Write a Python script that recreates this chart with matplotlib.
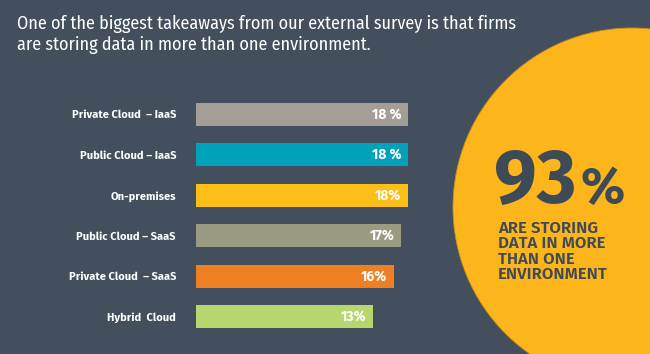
import numpy as np
import matplotlib
matplotlib.use('Agg')
from matplotlib import pyplot as plt
from matplotlib.patches import Circle

categories = ['Private Cloud  \u2013 IaaS', 'Public Cloud \u2013 IaaS', 'On-premises',
              'Public Cloud \u2013 SaaS', 'Private Cloud  \u2013 SaaS', 'Hybrid  Cloud']
values = [18, 18, 18, 17, 16, 13]
value_labels = ['18 %', '18 %', '18%', '17%', '16%', '13%']
colors = ['#a59d97', '#00a2b9', '#fbbf17', '#9b9b82', '#ee7f22', '#b6d66e']

headline = '93'
headline_unit = '%'
subtext = 'ARE STORING\nDATA IN MORE\nTHAN ONE\nENVIRONMENT'
title = ('One of the biggest takeaways from our external survey is that firms\n'
         'are storing data in more than one environment.')

bg = '#434f5c'
yellow = '#fdb51c'
dark_text = '#3f4a57'
base = -12.3  # bars in the infographic don't start at zero

fig = plt.figure(figsize=(6.5, 3.54), dpi=100)
fig.patch.set_facecolor(bg)

# background layer in pixel coords
bgax = fig.add_axes([0, 0, 1, 1])
bgax.set_xlim(0, 650)
bgax.set_ylim(354, 0)
bgax.axis('off')
bgax.add_patch(Circle((632, 207), 179, facecolor=yellow, edgecolor='#c98f14', linewidth=0.6))

bgax.text(17, 15, title, color='white', fontsize=13, family='Fira Sans Condensed',
          va='top', ha='left', linespacing=1.2)
bgax.text(494, 203, headline, color=dark_text, fontsize=55, fontweight='bold',
          family='Fira Sans', va='baseline', ha='left')
bgax.text(581, 203, headline_unit, color=dark_text, fontsize=37, fontweight='bold',
          family='Fira Sans', va='baseline', ha='left')
bgax.text(498, 220, subtext, color=dark_text, fontsize=12, fontweight='semibold',
          family='Fira Sans', va='top', ha='left', linespacing=0.97)

# bar chart
ax = fig.add_axes([196 / 650, 1 - 337 / 354, 300 / 650, 243 / 354])
ax.patch.set_alpha(0)
y = np.arange(len(values))
widths = np.array(values) - base
ax.barh(y, widths, left=base, height=0.57, color=colors)
ax.set_xlim(base, base + 300 / 7.0)
ax.set_ylim(len(values) - 0.5, -0.5)
for i, v in enumerate(values):
    ax.text(v - 1.0, i, value_labels[i], color='white', fontsize=10, fontweight='bold',
            family='Fira Sans', ha='right', va='center')
ax.set_yticks(y)
ax.set_yticklabels(categories, color='white', fontsize=8, fontweight='bold', family='Fira Sans')
ax.tick_params(axis='y', length=0, pad=14.4)
ax.set_xticks([])
for s in ax.spines.values():
    s.set_visible(False)

fig.savefig('out.png', dpi=100, facecolor=bg)
